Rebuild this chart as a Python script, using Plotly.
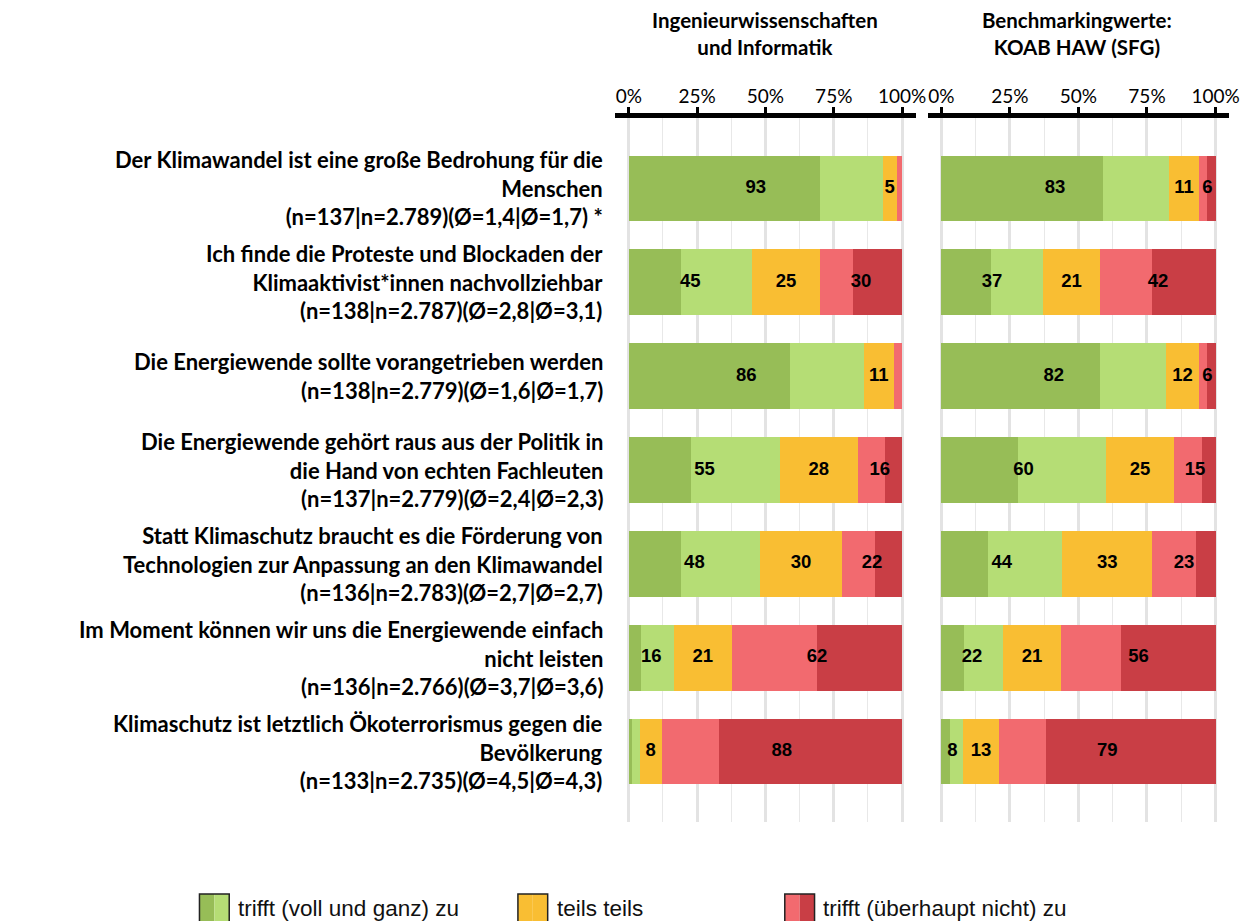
import plotly.graph_objects as go

# statements (row labels), top to bottom
statements = [
    "Der Klimawandel ist eine große Bedrohung für die<br>Menschen<br>(n=137|n=2.789)(Ø=1,4|Ø=1,7) *",
    "Ich finde die Proteste und Blockaden der<br>Klimaaktivist*innen nachvollziehbar<br>(n=138|n=2.787)(Ø=2,8|Ø=3,1)",
    "Die Energiewende sollte vorangetrieben werden<br>(n=138|n=2.779)(Ø=1,6|Ø=1,7)",
    "Die Energiewende gehört raus aus der Politik in<br>die Hand von echten Fachleuten<br>(n=137|n=2.779)(Ø=2,4|Ø=2,3)",
    "Statt Klimaschutz braucht es die Förderung von<br>Technologien zur Anpassung an den Klimawandel<br>(n=136|n=2.783)(Ø=2,7|Ø=2,7)",
    "Im Moment können wir uns die Energiewende einfach<br>nicht leisten<br>(n=136|n=2.766)(Ø=3,7|Ø=3,6)",
    "Klimaschutz ist letztlich Ökoterrorismus gegen die<br>Bevölkerung<br>(n=133|n=2.735)(Ø=4,5|Ø=4,3)",
]

panel_titles = ["Ingenieurwissenschaften<br>und Informatik", "Benchmarkingwerte:<br>KOAB HAW (SFG)"]
legend_labels = ["trifft (voll und ganz) zu", "teils teils", "trifft (überhaupt nicht) zu"]

# Ingenieurwissenschaften und Informatik (percent)
eng_1 = [70, 19, 59, 22.6, 19, 4.5, 1]    # trifft voll und ganz zu
eng_2 = [23, 26, 27, 32.8, 29, 11.9, 3]   # trifft zu
eng_3 = [5, 25, 11, 28.3, 30, 21.3, 8]    # teils teils
eng_4 = [2, 12, 3, 10.1, 12, 31.0, 21]    # trifft nicht zu
eng_5 = [0, 18, 0, 6.2, 10, 31.3, 67]     # trifft überhaupt nicht zu

# Benchmark KOAB HAW (SFG)
koab_1 = [59, 18, 58, 28, 17, 8.3, 3]
koab_2 = [24, 19, 24, 32, 27, 14.1, 5]
koab_3 = [11, 21, 12, 25, 33, 21.4, 13]
koab_4 = [3, 19, 3, 10, 16, 21.9, 17]
koab_5 = [3, 23, 3, 5, 7, 34.3, 62]

colors = ["#97BD57", "#B5DD75", "#F9BE33", "#F26A6F", "#C93E45"]

W, H = 1260, 921
TOP, BOTTOM = 110, 814   # rendered page sits ~7px lower


def px(x):
    return x / W


def py(y):
    # y in reference pixels -> paper fraction
    return (BOTTOM + 7 - y) / (BOTTOM - TOP)


fig = go.Figure()

for xa, series in (("x", [eng_1, eng_2, eng_3, eng_4, eng_5]),
                   ("x2", [koab_1, koab_2, koab_3, koab_4, koab_5])):
    for vals, col in zip(series, colors):
        fig.add_trace(go.Bar(
            x=vals, y=statements, orientation="h", xaxis=xa, yaxis="y",
            marker=dict(color=col, line=dict(width=0)), width=0.7,
            showlegend=False, hoverinfo="skip"))
    # grouped labels: agree / neutral / disagree, centred in their group
    tx, ty, tt = [], [], []
    for i in range(len(statements)):
        agree = series[0][i] + series[1][i]
        neutral = series[2][i]
        disagree = series[3][i] + series[4][i]
        for start, v in ((0, agree), (agree, neutral), (agree + neutral, disagree)):
            if round(v) >= 5:
                tx.append(start + v / 2)
                ty.append(statements[i])
                tt.append(f"<b>{round(v)}</b>")
    fig.add_trace(go.Scatter(
        x=tx, y=ty, text=tt, mode="text", xaxis=xa, yaxis="y",
        textfont=dict(family="Liberation Sans, Arial", size=18.5, color="black"),
        showlegend=False, hoverinfo="skip"))

axis_common = dict(
    side="top", range=[-5, 105], tick0=0, dtick=25, ticksuffix="%",
    showline=True, linewidth=5, linecolor="black",
    ticks="outside", ticklen=6, tickwidth=3, tickcolor="black",
    tickfont=dict(family="Lato", size=19, color="black"), ticklabelstandoff=-4,
    showgrid=True, gridcolor="#E3E3E3", gridwidth=3, zeroline=False,
    minor=dict(dtick=12.5, tick0=0, showgrid=True, gridcolor="#E8E8E8", gridwidth=1),
    fixedrange=True,
)

fig.update_layout(
    width=W, height=H,
    margin=dict(l=0, r=0, t=TOP, b=H - BOTTOM),
    paper_bgcolor="white", plot_bgcolor="white",
    barmode="stack",
    xaxis=dict(domain=[px(612), px(915)], anchor="y", **axis_common),
    xaxis2=dict(domain=[px(927), px(1231)], anchor="y", **axis_common),
    yaxis=dict(type="category", range=[6.75, -0.75], showticklabels=False,
               showgrid=False, zeroline=False, fixedrange=True),
    showlegend=False,
)

# row labels
for s in statements:
    fig.add_annotation(x=px(602), xref="paper", y=s, yref="y", text=f"<b>{s}</b>",
                       showarrow=False, xanchor="right", align="right",
                       font=dict(family="Lato", size=22, color="black"))

# panel titles
for cx, t in zip((763, 1078), panel_titles):
    fig.add_annotation(x=px(cx), xref="paper", y=py(33), yref="paper", text=f"<b>{t}</b>",
                       showarrow=False, xanchor="center", yanchor="middle", align="center",
                       font=dict(family="Lato", size=20.5, color="black"))

# legend
swatches = [(193, colors[0], colors[1]), (514, colors[2], colors[2]), (783, colors[3], colors[4])]
for (x0, c1, c2), lab in zip(swatches, legend_labels):
    fig.add_shape(type="rect", xref="paper", yref="paper", x0=px(x0), x1=px(x0 + 15),
                  y0=py(893), y1=py(935), fillcolor=c1, line=dict(width=0))
    fig.add_shape(type="rect", xref="paper", yref="paper", x0=px(x0 + 15), x1=px(x0 + 30),
                  y0=py(893), y1=py(935), fillcolor=c2, line=dict(width=0))
    fig.add_shape(type="rect", xref="paper", yref="paper", x0=px(x0), x1=px(x0 + 30),
                  y0=py(893), y1=py(935), fillcolor="rgba(0,0,0,0)",
                  line=dict(width=1.5, color="#222"))
    fig.add_annotation(x=px(x0 + 37), xref="paper", y=py(907), yref="paper", text=lab,
                       showarrow=False, xanchor="left", yanchor="middle",
                       font=dict(family="Liberation Sans, Arial", size=22.5, color="#111"))

fig.write_html("out.html")
